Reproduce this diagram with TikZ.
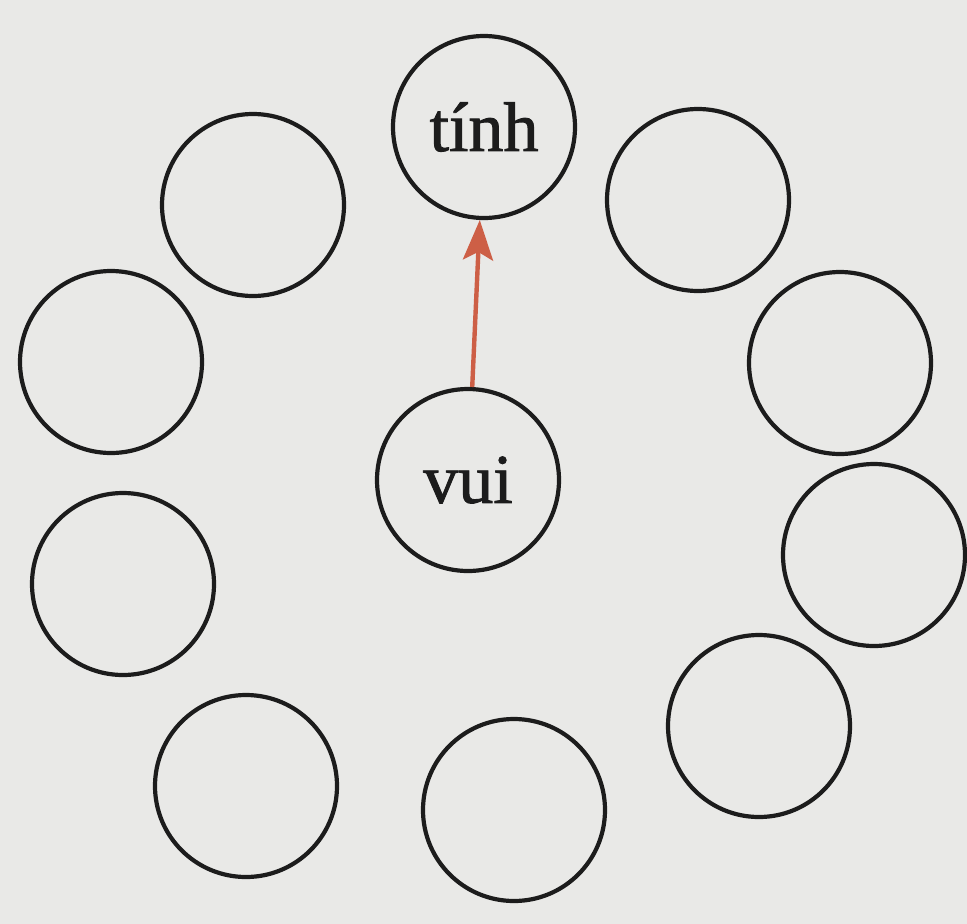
\documentclass[tikz,border=0pt]{standalone}
\usepackage{fontspec}
\setmainfont{Liberation Serif}
\newfontfamily\labelfont[FakeBold=1.3]{Liberation Serif}
\usetikzlibrary{arrows.meta}
\definecolor{paper}{RGB}{233,233,231}
\definecolor{ink}{RGB}{28,28,28}
\definecolor{arrowred}{RGB}{205,95,70}
\tikzset{
  ring/.style={circle, draw=ink, line width=4.2pt, minimum size=182pt, inner sep=0pt, font=\labelfont\fontsize{70}{70}\selectfont, text=ink},
  redarrow/.style={draw=arrowred, line width=4.4pt, -{Stealth[length=40pt,width=30pt,inset=8pt]}}
}
\begin{document}
\begin{tikzpicture}[x=1pt,y=-1pt]
\fill[paper] (0,0) rectangle (967,924);
\useasboundingbox (0,0) rectangle (967,924);
\node[ring] (tinh) at (484,127) {tính};
\node[ring] (vui)  at (468,480) {vui};
\node[ring] (c1) at (253,205) {};
\node[ring] (c2) at (111,362) {};
\node[ring] (c3) at (123,584) {};
\node[ring] (c4) at (246,786) {};
\node[ring] (c5) at (514,810) {};
\node[ring] (c6) at (759,726) {};
\node[ring] (c7) at (874,555) {};
\node[ring] (c8) at (840,363) {};
\node[ring] (c9) at (698,200) {};
\draw[redarrow] (vui) -- (tinh);
\end{tikzpicture}
\end{document}
